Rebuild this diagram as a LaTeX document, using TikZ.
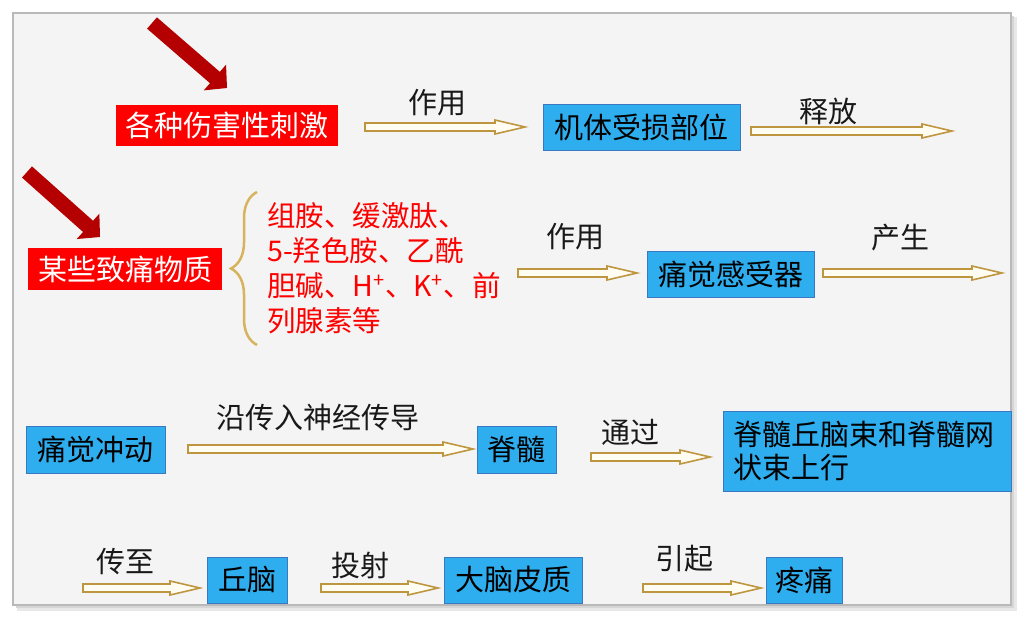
\documentclass[tikz,border=0pt]{standalone}
\usepackage{fontspec}
\newfontfamily\cjk{Noto Sans CJK SC}
\usetikzlibrary{calc,decorations.pathreplacing}
\definecolor{boxblue}{HTML}{2FAEEF}
\definecolor{boxedge}{HTML}{3A78C2}
\definecolor{redbox}{HTML}{FF0000}
\definecolor{darkred}{HTML}{B40000}
\definecolor{arrgold}{HTML}{BE9640}
\definecolor{cream}{HTML}{FFFDF2}
\definecolor{bracegold}{HTML}{D6B35C}
\definecolor{panel}{HTML}{F4F4F4}
\newcommand\harrowpath[2]{\draw[harrow] let \p1=(#1), \p2=(#2) in
  (\x1,\y1+4pt) -- (\x2-30pt,\y2+4pt) -- (\x2-30pt,\y2+7pt) -- (\x2,\y2) --
  (\x2-30pt,\y2-7pt) -- (\x2-30pt,\y2-4pt) -- (\x1,\y1-4pt) -- cycle;}
\newcommand\fatarrow[2]{%
  \coordinate (tmpB) at ($(#2)!16pt!(#1)$);
  \fill[fatred] ($(#1)!7.5pt!90:(#2)$) -- ($(tmpB)!7.5pt!90:(#2)$) -- ($(tmpB)!17pt!90:(#2)$) -- (#2) --
    ($(tmpB)!17pt!-90:(#2)$) -- ($(tmpB)!7.5pt!-90:(#2)$) -- ($(#1)!7.5pt!-90:(#2)$) -- cycle;}
\tikzset{
  bluebox/.style={draw=boxedge, line width=0.8pt, fill=boxblue, inner sep=0pt, text=black,
    font=\cjk\fontsize{29}{33}\selectfont},
  redlabel/.style={fill=redbox, inner sep=0pt, text=white, font=\cjk\fontsize{29}{33}\selectfont},
  lbl/.style={font=\cjk\fontsize{29}{33}\selectfont, inner sep=0pt, text=black!90},
  harrow/.style={draw=arrgold, fill=cream, line width=1.6pt, line join=miter},
  fatred/.style={fill=darkred},
  bracestyle/.style={draw=bracegold, line width=2.5pt, decorate, decoration={brace, amplitude=26pt}},
}
\begin{document}
\begin{tikzpicture}[x=1pt,y=-1pt]
\useasboundingbox (0,0) rectangle (1027,623);
\fill[white] (0,0) rectangle (1027,623);
% panel with soft shadow
\fill[gray!18] (17,17) rectangle (1017,611);
\fill[gray!32] (16,16) rectangle (1014,608);
\draw[fill=panel, draw=gray!55, line width=1.5pt] (13,13) rectangle (1011,605);

% row 1
\coordinate (t1) at (152,23);
\coordinate (p1) at (227,88);
\fatarrow{t1}{p1}
\node[redlabel, minimum width=222pt, minimum height=41pt] (r1) at (227,125.5) {各种伤害性刺激};
\coordinate (a1s) at (365,127); \coordinate (a1e) at (525,127);
\harrowpath{a1s}{a1e}
\node[lbl] (l1) at (437,103) {作用};
\node[bluebox, minimum width=197pt, minimum height=46pt] (b1) at (641.5,127) {机体受损部位};
\coordinate (a2s) at (751,131); \coordinate (a2e) at (952,131);
\harrowpath{a2s}{a2e}
\node[lbl] (l2) at (828,111) {释放};

% row 2
\coordinate (t2) at (27,172);
\coordinate (p2) at (100,237);
\fatarrow{t2}{p2}
\node[redlabel, minimum width=194pt, minimum height=42pt] (r2) at (125,269) {某些致痛物质};
\coordinate (bb) at (257,345); \coordinate (bt) at (257,192);
\draw[bracestyle] (bb) -- (bt);
\node[anchor=west, align=left, inner sep=0pt, text=redbox, font=\cjk\fontsize{28.5}{35}\selectfont] (rt) at (267,268.5)
  {组胺、缓激肽、\\5-羟色胺、乙酰\\胆碱、H\textsuperscript{+}、K\textsuperscript{+}、前\\列腺素等};
\coordinate (a3s) at (518,273); \coordinate (a3e) at (637,273);
\harrowpath{a3s}{a3e}
\node[lbl] (l3) at (575,237) {作用};
\node[bluebox, minimum width=167pt, minimum height=46pt] (b2) at (730.5,274) {痛觉感受器};
\coordinate (a4s) at (823,273); \coordinate (a4e) at (1002,273);
\harrowpath{a4s}{a4e}
\node[lbl] (l4) at (900,238) {产生};

% row 3
\node[bluebox, minimum width=139pt, minimum height=47pt] (b3) at (95.5,449.5) {痛觉冲动};
\coordinate (a5s) at (188,449); \coordinate (a5e) at (473,449);
\harrowpath{a5s}{a5e}
\node[lbl] (l5) at (318,418) {沿传入神经传导};
\node[bluebox, minimum width=79pt, minimum height=47pt] (b4) at (516.5,449.5) {脊髓};
\coordinate (a6s) at (591,457); \coordinate (a6e) at (710,457);
\harrowpath{a6s}{a6e}
\node[lbl] (l6) at (630,432) {通过};
\node[bluebox, minimum width=288pt, minimum height=80pt, text width=268pt, align=left] (b5) at (867,451)
  {脊髓丘脑束和脊髓网\\状束上行};

% row 4
\coordinate (a7s) at (83,588); \coordinate (a7e) at (200,588);
\harrowpath{a7s}{a7e}
\node[lbl] (l7) at (125,562) {传至};
\node[bluebox, minimum width=80pt, minimum height=46pt] (b6) at (247,580) {丘脑};
\coordinate (a8s) at (321,588); \coordinate (a8e) at (438,588);
\harrowpath{a8s}{a8e}
\node[lbl] (l8) at (360,565) {投射};
\node[bluebox, minimum width=138pt, minimum height=46pt] (b7) at (513,580) {大脑皮质};
\coordinate (a9s) at (643,588); \coordinate (a9e) at (761,588);
\harrowpath{a9s}{a9e}
\node[lbl] (l9) at (684,559) {引起};
\node[bluebox, minimum width=76pt, minimum height=46pt] (b8) at (804,580) {疼痛};
\end{tikzpicture}
\end{document}
